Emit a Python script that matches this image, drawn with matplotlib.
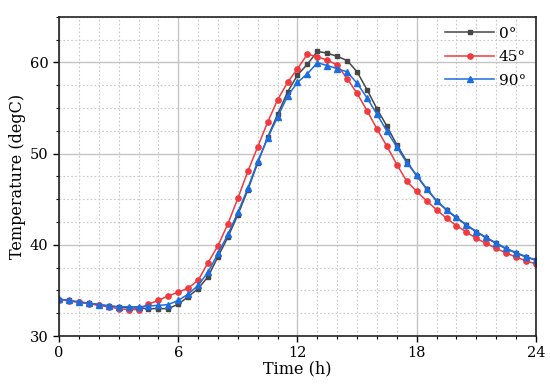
import numpy as np
import matplotlib
matplotlib.use("Agg")
import matplotlib.pyplot as plt
from matplotlib.ticker import MultipleLocator

plt.rcParams['font.family'] = ['DejaVu Serif']

# time axis, every half hour
hours = np.arange(0, 24.01, 0.5)

# 0 deg
temp_0 = [34.0, 33.9, 33.7, 33.6, 33.45, 33.3, 33.2, 33.1, 33.05, 33.0,
          33.0, 33.0, 33.5, 34.3, 35.2, 36.5, 38.7, 40.85, 43.3, 46.0,
          49.0, 51.8, 54.3, 56.75, 58.6, 59.8, 61.2, 61.0, 60.65, 60.2,
          58.95, 57.0, 54.9, 53.0, 50.95, 49.15, 47.55, 46.1, 44.8, 43.8,
          42.95, 42.15, 41.4, 40.75, 40.15, 39.55, 39.1, 38.65, 38.3]
# 45 deg
temp_45 = [34.0, 33.85, 33.7, 33.55, 33.35, 33.2, 33.0, 32.9, 32.9, 33.5,
           33.9, 34.4, 34.8, 35.25, 36.1, 38.05, 39.9, 42.3, 45.1, 48.05,
           50.75, 53.45, 55.9, 57.8, 59.3, 60.9, 60.6, 60.25, 59.7, 58.2,
           56.6, 54.7, 52.7, 50.8, 48.8, 46.95, 45.85, 44.8, 43.85, 42.9,
           42.1, 41.4, 40.7, 40.15, 39.6, 39.1, 38.65, 38.25, 37.9]
# 90 deg
temp_90 = [34.05, 33.9, 33.75, 33.6, 33.45, 33.3, 33.2, 33.2, 33.2, 33.3,
           33.35, 33.45, 33.9, 34.6, 35.55, 37.0, 39.05, 41.15, 43.55, 46.2,
           49.15, 51.7, 54.0, 56.3, 57.8, 58.75, 59.95, 59.65, 59.3, 58.95,
           57.7, 56.1, 54.3, 52.45, 50.7, 49.0, 47.6, 46.15, 44.85, 43.85,
           43.0, 42.2, 41.45, 40.8, 40.2, 39.6, 39.15, 38.7, 38.35]

labels = ["0°", "45°", "90°"]

fig = plt.figure(figsize=(5.5, 3.86), dpi=100)
ax = fig.add_axes([0.1073, 0.1295, 0.8672, 0.8272])

ax.plot(hours, temp_0, color="#474747", marker="s", ms=3.5, lw=1.1, label=labels[0])
ax.plot(hours, temp_45, color="#f03a3e", marker="o", ms=3.8, lw=1.1, label=labels[1])
ax.plot(hours, temp_90, color="#1c6de0", marker="^", ms=4.2, lw=1.1, label=labels[2])

ax.set_xlim(0, 24)
ax.set_ylim(30, 65)
ax.xaxis.set_major_locator(MultipleLocator(6))
ax.xaxis.set_minor_locator(MultipleLocator(1))
ax.yaxis.set_major_locator(MultipleLocator(10))
ax.yaxis.set_minor_locator(MultipleLocator(2.5))

ax.grid(which="major", color="#c4c4c4", lw=1.0, ls="-")
ax.grid(which="minor", color="#c8c8c8", lw=0.8, ls=(0, (1.5, 2)))
ax.set_axisbelow(True)

ax.tick_params(which="major", direction="out", length=4, width=1.0, labelsize=10.5, colors="black")
ax.tick_params(which="minor", direction="out", length=2.5, width=0.8)
for sp in ax.spines.values():
    sp.set_linewidth(1.2)
    sp.set_color("#222222")

ax.set_xlabel("Time (h)", fontsize=11.5, labelpad=0)
ax.set_ylabel("Temperature (degC)", fontsize=11.5, labelpad=3)

ax.legend(loc="upper right", bbox_to_anchor=(1.0, 1.0), frameon=False, fontsize=11,
          handlelength=3.2, labelspacing=0.62, handletextpad=0.3, borderaxespad=0.25)

fig.savefig("out.png", dpi=100)
